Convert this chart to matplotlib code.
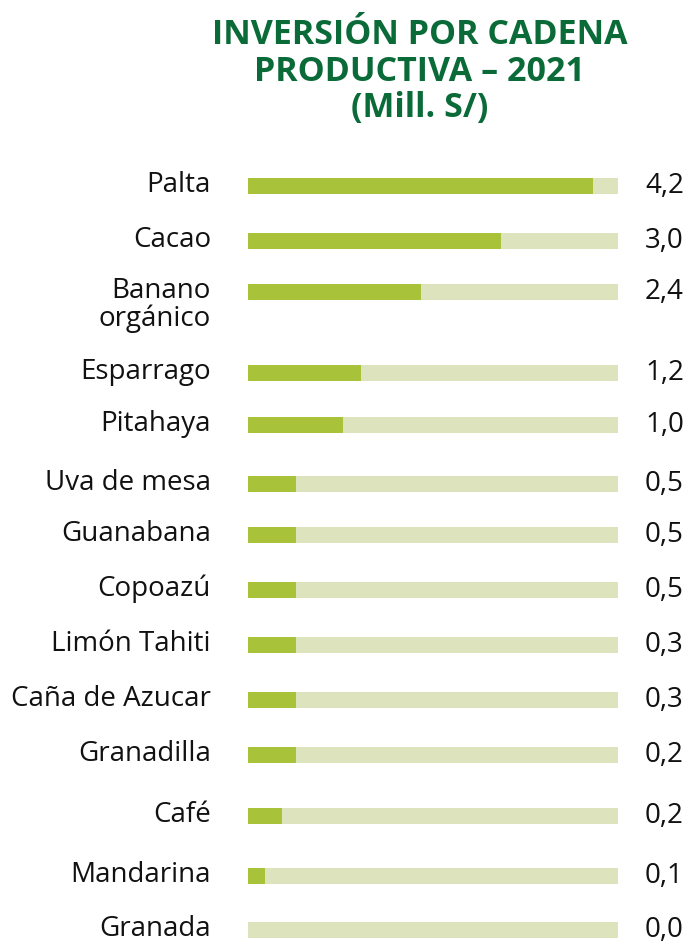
"""Inversion por cadena productiva 2021 - horizontal progress bars."""

import matplotlib
matplotlib.use("Agg")
import matplotlib.pyplot as plt

# ---------------------------------------------------------------------------
# Data
# ---------------------------------------------------------------------------
TITLE = "INVERSIÓN POR CADENA\nPRODUCTIVA – 2021\n(Mill. S/)"

CADENAS = [
    "Palta", "Cacao", "Banano\norgánico", "Esparrago", "Pitahaya",
    "Uva de mesa", "Guanabana", "Copoazú", "Limón Tahiti",
    "Caña de Azucar", "Granadilla", "Café", "Mandarina", "Granada",
]
# bar lengths as drawn in the source (track = 4.5)
INVERSION = [4.20, 3.08, 2.10, 1.37, 1.16, 0.58, 0.58, 0.58, 0.58,
             0.58, 0.58, 0.41, 0.21, 0.0]
ETIQUETAS = ["4,2", "3,0", "2,4", "1,2", "1,0", "0,5", "0,5", "0,5",
             "0,3", "0,3", "0,2", "0,2", "0,1", "0,0"]
TRACK_MAX = 4.5

# ---------------------------------------------------------------------------
# Layout (pixels, figure is 688 x 944)
# ---------------------------------------------------------------------------
W, H = 688, 944
ROW_Y = [186, 241, 292, 373, 425, 484, 535, 590, 645, 700, 755, 816, 876, 930]
BAR_H = 16
X0, X1 = 248, 618

GREEN = "#a8c239"
TRACK = "#dde3bd"
TITLE_GREEN = "#0a6a38"
INK = "#111111"
FONT = "Open Sans"


def main():
    fig = plt.figure(figsize=(W / 100, H / 100), dpi=100)
    fig.patch.set_facecolor("white")

    ax = fig.add_axes([X0 / W, 0, (X1 - X0) / W, 1])
    ax.set_xlim(0, TRACK_MAX)
    ax.set_ylim(H, 0)
    ax.axis("off")

    ax.barh(ROW_Y, [TRACK_MAX] * len(ROW_Y), height=BAR_H, left=0,
            color=TRACK, linewidth=0)
    ax.barh(ROW_Y, INVERSION, height=BAR_H, left=0,
            color=GREEN, linewidth=0)

    px = TRACK_MAX / (X1 - X0)  # data units per pixel
    for y, name, lab in zip(ROW_Y, CADENAS, ETIQUETAS):
        lines = name.split("\n")
        ax.text(-(X0 - 211) * px, y + 6, lines[0], ha="right", va="baseline",
                fontsize=20, family=FONT, color=INK, clip_on=False)
        if len(lines) > 1:
            ax.text(-(X0 - 211) * px, y + 34, lines[1],
                    ha="right", va="baseline", fontsize=20, family=FONT,
                    color=INK, clip_on=False)
        ax.text((645 - X0) * px, y + 7, lab, ha="left", va="baseline",
                fontsize=20, family=FONT, color=INK, clip_on=False)

    fig.text(420 / W, 1 - 18 / H, TITLE, ha="center", va="top",
             fontsize=24.5, fontweight="bold", family=FONT,
             color=TITLE_GREEN, linespacing=1.1)

    fig.savefig("out.png", dpi=100, facecolor="white")
    plt.close(fig)


if __name__ == "__main__":
    main()
